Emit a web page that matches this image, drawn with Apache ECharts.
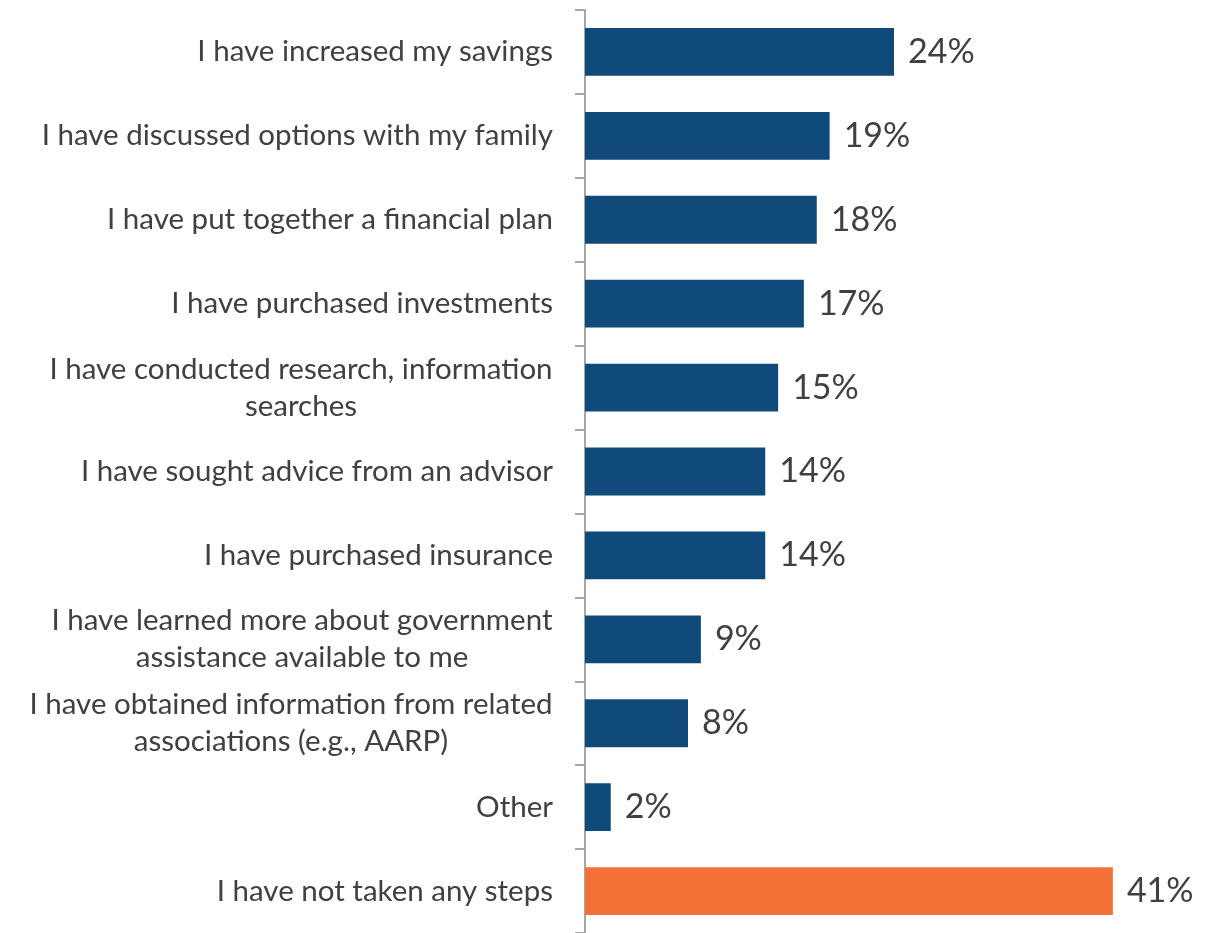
<!DOCTYPE html>
<html>
<head>
<meta charset="utf-8">
<script src="https://cdn.jsdelivr.net/npm/echarts@6/dist/echarts.min.js"></script>
<style>
  html, body { margin: 0; padding: 0; background: #ffffff; }
  #chart { width: 1220px; height: 933px; }
</style>
</head>
<body>
<div id="chart"></div>
<script>
// Steps taken, share of respondents (%), listed top to bottom
const categories = [
  'I have increased my savings',
  'I have discussed options with my family',
  'I have put together a financial plan',
  'I have purchased investments',
  'I have conducted research, information\nsearches',
  'I have sought advice from an advisor',
  'I have purchased insurance',
  'I have learned more about government\nassistance available to me',
  'I have obtained information from related\nassociations (e.g., AARP)',
  'Other',
  'I have not taken any steps'
];
const values = [24, 19, 18, 17, 15, 14, 14, 9, 8, 2, 41];
const highlightCategory = 'I have not taken any steps';

const BLUE = '#0F4A7B';
const ORANGE = '#F37037';
const TEXT = '#404040';
const FONT = 'Lato';
const CAT_SIZE = 29.5;
const VAL_SIZE = 34;
const LINE_H = 37;

// Multi-line category labels: lines centred inside a block that is right-aligned to the axis
const measureCtx = document.createElement('canvas').getContext('2d');
measureCtx.font = CAT_SIZE + 'px ' + FONT;
const rich = {};
categories.forEach(function (c, i) {
  const lines = c.split('\n');
  if (lines.length > 1) {
    const w = Math.ceil(Math.max.apply(null, lines.map(function (l) { return measureCtx.measureText(l).width; })));
    rich['c' + i] = { width: w, align: 'center', fontSize: CAT_SIZE, fontFamily: FONT, color: TEXT, lineHeight: LINE_H };
  }
});

const chart = echarts.init(document.getElementById('chart'), null, { renderer: 'canvas' });
chart.setOption({
  animation: false,
  backgroundColor: '#ffffff',
  grid: { left: 585, right: 17, top: 10, height: 927.7, containLabel: false },
  xAxis: {
    type: 'value', min: 0, max: 48, show: false
  },
  yAxis: {
    type: 'category',
    data: categories,
    inverse: true,
    axisLine: { show: true, lineStyle: { color: '#A6A6A6', width: 2 } },
    axisTick: { show: true, length: 10, lineStyle: { color: '#A6A6A6', width: 2 } },
    axisLabel: {
      margin: 32,
      color: TEXT,
      fontSize: CAT_SIZE,
      fontFamily: FONT,
      lineHeight: LINE_H,
      align: 'right',
      rich: rich,
      formatter: function (value, index) {
        const lines = value.split('\n');
        if (lines.length === 1) return value;
        return lines.map(function (l) { return '{c' + index + '|' + l + '}'; }).join('\n');
      }
    },
    splitLine: { show: false }
  },
  series: [{
    type: 'bar',
    data: values,
    barCategoryGap: '43%',
    itemStyle: {
      color: function (p) { return categories[p.dataIndex] === highlightCategory ? ORANGE : BLUE; }
    },
    label: {
      show: true,
      position: 'right',
      distance: 14,
      formatter: '{c}%',
      color: TEXT,
      fontSize: VAL_SIZE,
      fontFamily: FONT
    }
  }]
});
</script>
</body>
</html>
